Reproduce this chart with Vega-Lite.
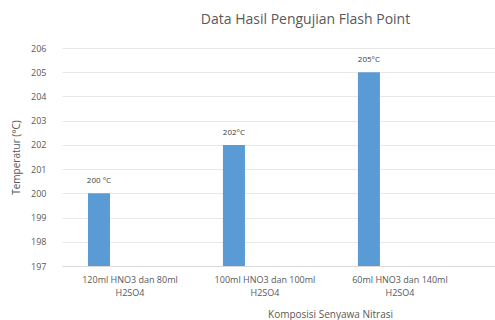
{
  "$schema": "https://vega.github.io/schema/vega-lite/v6.json",
  "width": 433,
  "height": 218,
  "autosize": {"type": "none"},
  "padding": {"left": 62, "top": 48, "right": 0, "bottom": 54},
  "background": "white",
  "config": {
    "view": {"stroke": null},
    "font": "Open Sans"
  },
  "title": {
    "text": "Data Hasil Pengujian Flash Point",
    "font": "Open Sans",
    "fontSize": 14,
    "fontWeight": "normal",
    "color": "#595959",
    "anchor": "middle",
    "dx": 27,
    "offset": 17
  },
  "data": {
    "values": [
      {"komposisi": "120ml HNO3 dan 80ml|H2SO4", "temp": 200, "label": "200 °C"},
      {"komposisi": "100ml HNO3 dan 100ml|H2SO4", "temp": 202, "label": "202°C"},
      {"komposisi": "60ml HNO3 dan 140ml|H2SO4", "temp": 205, "label": "205°C"}
    ]
  },
  "encoding": {
    "x": {
      "field": "komposisi",
      "type": "nominal",
      "sort": null,
      "scale": {"paddingInner": 0.452, "paddingOuter": 0.33, "align": 0},
      "axis": {
        "title": "Komposisi Senyawa Nitrasi",
        "titleFont": "Open Sans",
        "titleFontWeight": "normal",
        "titleFontSize": 10,
        "titleColor": "#595959",
        "titleX": 268,
        "titlePadding": 12,
        "labelAngle": 0,
        "labelExpr": "split(datum.label, '|')",
        "labelFontSize": 9,
        "labelColor": "#595959",
        "labelPadding": 9,
        "labelOffset": 31,
        "ticks": false,
        "domainColor": "#d9d9d9",
        "labelLineHeight": 13
      }
    },
    "y": {
      "field": "temp",
      "type": "quantitative",
      "scale": {"domain": [197, 206], "zero": false},
      "axis": {
        "title": "Temperatur (°C)",
        "titleFont": "Open Sans",
        "titleFontWeight": "normal",
        "titleFontSize": 10,
        "titleColor": "#595959",
        "titlePadding": 9,
        "values": [197, 198, 199, 200, 201, 202, 203, 204, 205, 206],
        "labelFontSize": 9,
        "labelColor": "#595959",
        "labelPadding": 16,
        "ticks": false,
        "domain": false,
        "gridColor": "#e8e8e8"
      }
    }
  },
  "layer": [
    {"mark": {"type": "bar", "size": 22, "color": "#5B9BD5", "clip": true}},
    {
      "mark": {"type": "text", "dy": -12, "fontSize": 8, "color": "#404040"},
      "encoding": {"text": {"field": "label"}}
    }
  ]
}
